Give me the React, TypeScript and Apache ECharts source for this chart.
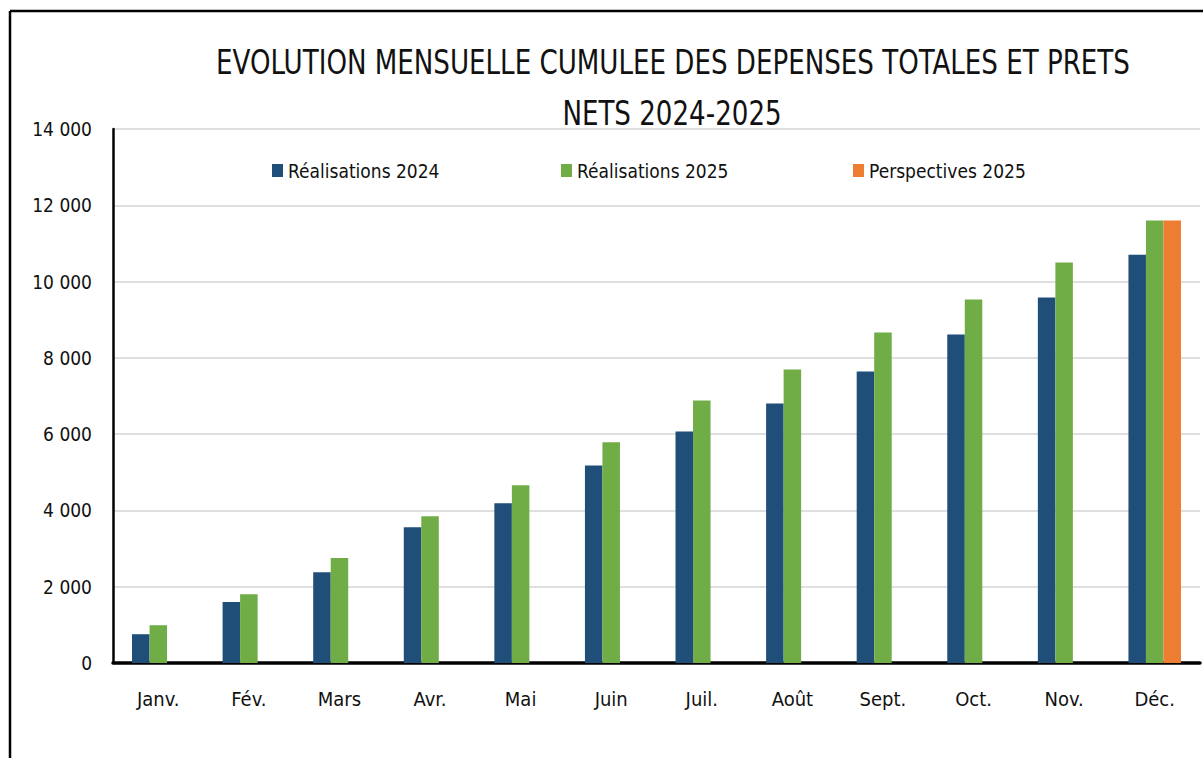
import React, { useEffect, useRef } from "react";
import * as echarts from "echarts";

const categories = ["Janv.", "Fév.", "Mars", "Avr.", "Mai", "Juin", "Juil.", "Août", "Sept.", "Oct.", "Nov.", "Déc."];
const realisations2024 = [755, 1600, 2380, 3560, 4190, 5180, 6070, 6805, 7645, 8615, 9580, 10705];
const realisations2025 = [990, 1805, 2750, 3850, 4660, 5790, 6885, 7695, 8665, 9530, 10500, 11600];
const perspectives2025 = [null, null, null, null, null, null, null, null, null, null, null, 11600];
const yTicks = { min: 0, max: 14000, interval: 2000 };
const titleLines = ["EVOLUTION MENSUELLE CUMULEE DES DEPENSES TOTALES ET PRETS", "NETS 2024-2025"];
const seriesNames = ["Réalisations 2024", "Réalisations 2025", "Perspectives 2025"];

const FONT = "'DejaVu Sans Condensed', 'Liberation Sans Narrow', 'Open Sans', sans-serif";
const COLORS = ["#1F4E79", "#70AD47", "#ED7D31"];

export default function App() {
  const ref = useRef<HTMLDivElement>(null);
  useEffect(() => {
    if (!ref.current) return;
    const chart = echarts.init(ref.current, null, { renderer: "svg" });
    const fmt = (v: number) => {
      const s = String(Math.round(v));
      return s.replace(/\B(?=(\d{3})+(?!\d))/g, " ");
    };
    const legendLefts = [272, 561, 853];
    chart.setOption({
      animation: false,
      backgroundColor: "#ffffff",
      textStyle: { fontFamily: FONT },
      graphic: [
        { type: "line", shape: { x1: 10, y1: 11, x2: 1210, y2: 11 }, style: { stroke: "#000", lineWidth: 2.5 } },
        { type: "line", shape: { x1: 10, y1: 11, x2: 10, y2: 770 }, style: { stroke: "#000", lineWidth: 2.5 } },
        {
          type: "text", x: 673, y: 62, scaleX: 0.88,
          style: { text: titleLines[0], fontFamily: FONT, fontSize: 33, fill: "#111", align: "center", verticalAlign: "middle" },
        },
        {
          type: "text", x: 672, y: 113, scaleX: 0.88,
          style: { text: titleLines[1], fontFamily: FONT, fontSize: 33, fill: "#111", align: "center", verticalAlign: "middle" },
        },
      ],
      legend: seriesNames.map((n, i) => ({
        data: [n],
        left: legendLefts[i],
        top: 161,
        icon: "rect",
        itemWidth: 11,
        itemHeight: 13,
        itemGap: 0,
        padding: 0,
        textStyle: { fontFamily: FONT, fontSize: 19, color: "#111" },
      })),
      grid: { left: 113, right: 3, top: 129, bottom: 95, containLabel: false },
      xAxis: {
        type: "category",
        data: categories,
        axisLine: { lineStyle: { color: "#000", width: 3.5 } },
        axisTick: { show: false },
        axisLabel: { fontFamily: FONT, fontSize: 20, color: "#111", margin: 26 },
      },
      yAxis: {
        type: "value",
        min: yTicks.min,
        max: yTicks.max,
        interval: yTicks.interval,
        axisLine: { show: true, lineStyle: { color: "#000", width: 2.5 } },
        axisTick: { show: false },
        splitLine: { lineStyle: { color: "#d4d4d4", width: 1.5 } },
        axisLabel: { fontFamily: FONT, fontSize: 19, color: "#111", margin: 21, formatter: fmt },
      },
      series: [
        { name: seriesNames[0], type: "bar", data: realisations2024, itemStyle: { color: COLORS[0] }, barGap: "0%", barCategoryGap: "42%" },
        { name: seriesNames[1], type: "bar", data: realisations2025, itemStyle: { color: COLORS[1] }, barGap: "0%", barCategoryGap: "42%" },
        { name: seriesNames[2], type: "bar", data: perspectives2025, itemStyle: { color: COLORS[2] }, barGap: "0%", barCategoryGap: "42%" },
      ],
    });
    return () => chart.dispose();
  }, []);
  return <div ref={ref} style={{ position: "fixed", left: 0, top: 0, width: 1203, height: 758 }} />;
}
